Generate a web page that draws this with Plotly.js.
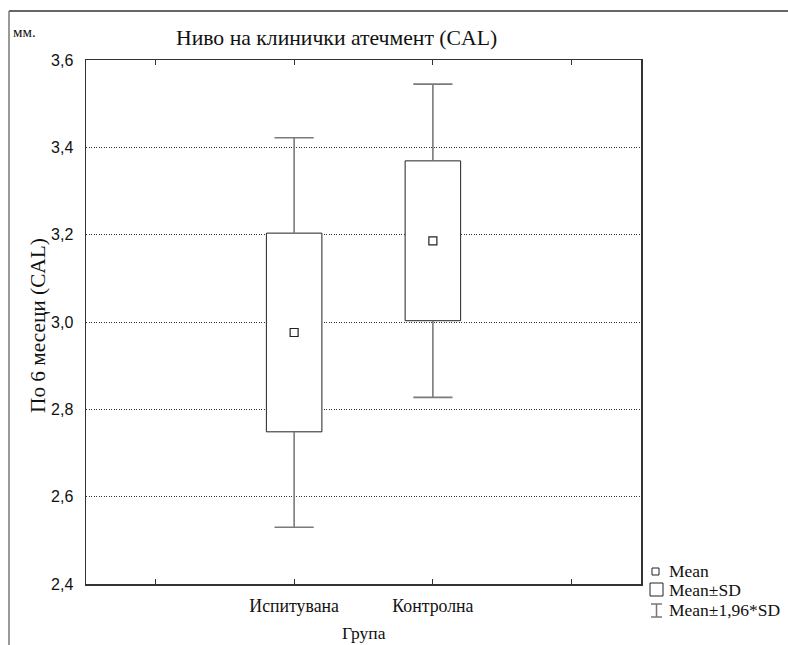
<!DOCTYPE html>
<html>
<head>
<meta charset="utf-8">
<script src="https://cdn.plot.ly/plotly-3.0.1.min.js"></script>
<style>html,body{margin:0;padding:0;background:#fff;}#chart{width:788px;height:645px;}</style>
</head>
<body>
<div id="chart"></div>
<script>
// Data
const groups = ['Испитувана', 'Контролна'];
const groupPos = [1, 2];
const means = [2.976, 3.186];
const sds = [0.2275, 0.1830];
const ciFactor = 1.96;
const tickVals = [0, 1, 2, 3];
const tickText = ['', 'Испитувана', 'Контролна', ''];
const legendLabels = ['Mean', 'Mean±SD', 'Mean±1,96*SD'];

const sdLow = means.map((m, i) => m - sds[i]);
const sdHigh = means.map((m, i) => m + sds[i]);
const sdSpan = sds.map(s => 2 * s);
const ciLow = means.map((m, i) => m - ciFactor * sds[i]);
const ciHigh = means.map((m, i) => m + ciFactor * sds[i]);

// whisker segments (box edge -> ±1.96*SD), separated by gaps
const whiskX = [], whiskY = [];
groupPos.forEach((p, i) => {
  whiskX.push(p, p, null, p, p, null);
  whiskY.push(sdHigh[i], ciHigh[i], null, sdLow[i], ciLow[i], null);
});
const capX = groupPos.concat(groupPos);
const capY = ciHigh.concat(ciLow);

const SERIF = '"Liberation Serif", "Times New Roman", serif';
const SANS = '"Liberation Sans", Arial, sans-serif';

// px -> paper helpers (plot area: x 86..641, y 60..584)
const L = 86, R = 641, T = 60, B = 584;
const px = v => (v - L) / (R - L);
const py = v => (B - v) / (B - T);

const whiskCol = '#7a7a7a';
const traces = [
  { // Mean ± SD boxes
    type: 'bar', x: groupPos, base: sdLow, y: sdSpan, width: 0.4,
    marker: { color: '#ffffff', line: { color: '#222222', width: 1 } },
    hoverinfo: 'skip', showlegend: false
  },
  { // whiskers
    type: 'scatter', mode: 'lines', x: whiskX, y: whiskY, connectgaps: false,
    line: { color: whiskCol, width: 1.6 }, hoverinfo: 'skip', showlegend: false
  },
  { // whisker caps
    type: 'scatter', mode: 'markers', x: capX, y: capY,
    marker: { symbol: 'line-ew', size: 28, color: whiskCol, line: { color: whiskCol, width: 1.6 } },
    hoverinfo: 'skip', showlegend: false
  },
  { // means
    type: 'scatter', mode: 'markers', x: groupPos, y: means,
    marker: { symbol: 'square-open', size: 8, color: '#222222', line: { width: 1.2 } },
    hoverinfo: 'skip', showlegend: false
  }
];

const lineCol = '#333333';
const shapes = [
  // outer frame (top and left)
  { type: 'line', xref: 'paper', yref: 'paper', x0: px(9), x1: px(788), y0: py(11), y1: py(11), line: { color: lineCol, width: 1.5 } },
  { type: 'line', xref: 'paper', yref: 'paper', x0: px(9), x1: px(9), y0: py(11), y1: py(645), line: { color: '#777777', width: 1.5 } },
  // legend symbols
  { type: 'rect', xref: 'paper', yref: 'paper', x0: px(652), x1: px(659), y0: py(568), y1: py(575), line: { color: '#222', width: 1 } },
  { type: 'rect', xref: 'paper', yref: 'paper', x0: px(650), x1: px(663), y0: py(583), y1: py(596), line: { color: '#222', width: 1 } },
  { type: 'line', xref: 'paper', yref: 'paper', x0: px(656.5), x1: px(656.5), y0: py(604), y1: py(617), line: { color: '#777', width: 1.5 } },
  { type: 'line', xref: 'paper', yref: 'paper', x0: px(651), x1: px(662), y0: py(604), y1: py(604), line: { color: '#777', width: 1.5 } },
  { type: 'line', xref: 'paper', yref: 'paper', x0: px(651), x1: px(662), y0: py(617), y1: py(617), line: { color: '#777', width: 1.5 } }
];

const annotations = [
  { text: 'Ниво на клинички атечмент (CAL)', xref: 'paper', yref: 'paper', x: px(336.5), y: py(38), xanchor: 'center', yanchor: 'middle', showarrow: false, font: { family: SERIF, size: 21.7, color: '#111' } },
  { text: 'мм.', xref: 'paper', yref: 'paper', x: px(11), y: py(32), xanchor: 'left', yanchor: 'middle', showarrow: false, font: { family: SERIF, size: 15, color: '#111' } },
  { text: 'По 6 месеци (CAL)', xref: 'paper', yref: 'paper', x: px(38), y: py(326), xanchor: 'center', yanchor: 'middle', textangle: -90, showarrow: false, font: { family: SERIF, size: 21.3, color: '#111' } },
  { text: 'Група', xref: 'paper', yref: 'paper', x: px(363.5), y: py(633), xanchor: 'center', yanchor: 'middle', showarrow: false, font: { family: SERIF, size: 17.5, color: '#111' } }
];
const legendY = [571, 590, 610];
legendLabels.forEach((t, i) => annotations.push({
  text: t, xref: 'paper', yref: 'paper', x: px(667), y: py(legendY[i]), xanchor: 'left', yanchor: 'middle',
  showarrow: false, font: { family: SERIF, size: 17.5, color: '#111' }
}));

const layout = {
  width: 788, height: 645,
  margin: { l: L, r: 788 - R, t: T, b: 645 - B, pad: 0 },
  paper_bgcolor: '#ffffff', plot_bgcolor: '#ffffff',
  separators: ', ',
  showlegend: false,
  xaxis: {
    range: [-0.5, 3.5], tickmode: 'array', tickvals: tickVals, ticktext: tickText,
    ticks: 'inside', ticklen: 5, tickcolor: lineCol, tickwidth: 1,
    showline: true, linecolor: lineCol, linewidth: 1.5, mirror: 'ticks',
    showgrid: false, zeroline: false,
    tickfont: { family: SERIF, size: 17.8, color: '#111' }, ticklabelstandoff: 5
  },
  yaxis: {
    range: [2.4, 3.6], tickmode: 'linear', tick0: 2.4, dtick: 0.2, tickformat: '.1f',
    ticks: '', showline: true, linecolor: lineCol, linewidth: 1.5, mirror: true,
    showgrid: true, gridcolor: '#333333', griddash: '1px,1.5px', gridwidth: 1, zeroline: false,
    tickfont: { family: SANS, size: 16, color: '#111' }, ticklabelstandoff: 8
  },
  shapes: shapes,
  annotations: annotations
};

Plotly.newPlot('chart', traces, layout, { staticPlot: true, displayModeBar: false });
</script>
</body>
</html>
